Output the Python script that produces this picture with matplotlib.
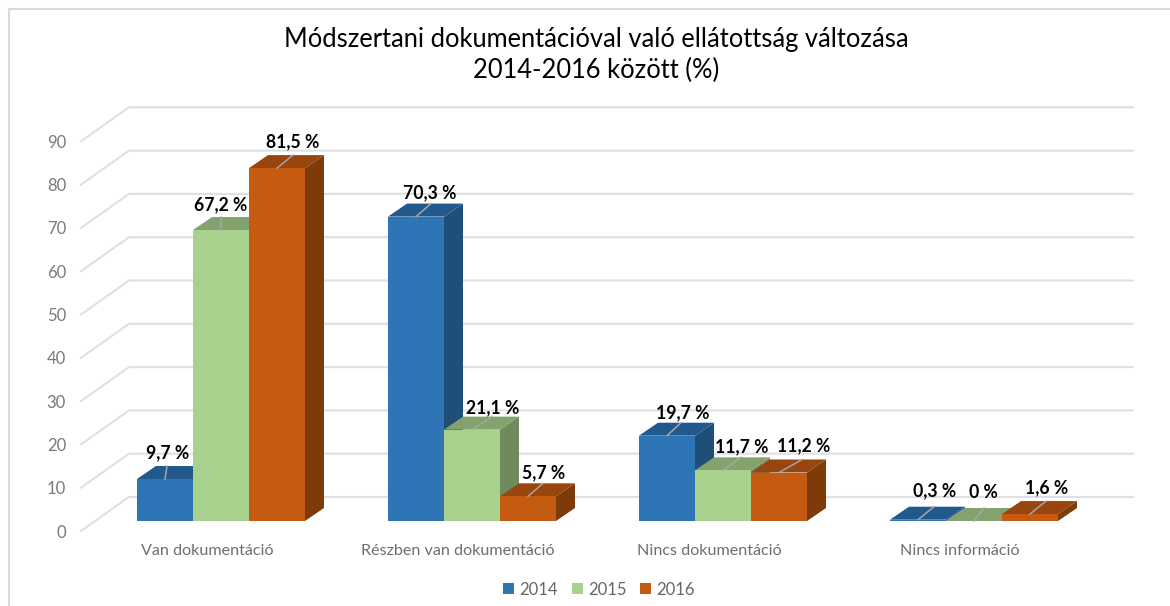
import matplotlib
matplotlib.use("Agg")
import matplotlib.pyplot as plt
from matplotlib.patches import Polygon, Rectangle

plt.rcParams['font.family'] = ['Lato', 'DejaVu Sans']

categories = ["Van dokumentáció", "Részben van dokumentáció", "Nincs dokumentáció", "Nincs információ"]
years = ["2014", "2015", "2016"]
v2014 = [9.7, 70.3, 19.7, 0.3]
v2015 = [67.2, 21.1, 11.7, 0.0]
v2016 = [81.5, 5.7, 11.2, 1.6]
labels2014 = ["9,7 %", "70,3 %", "19,7 %", "0,3 %"]
labels2015 = ["67,2 %", "21,1 %", "11,7 %", "0 %"]
labels2016 = ["81,5 %", "5,7 %", "11,2 %", "1,6 %"]
yticks = [0, 10, 20, 30, 40, 50, 60, 70, 80, 90]
title = "Módszertani dokumentációval való ellátottság változása\n2014-2016 között (%)"

W, H = 1170, 606
PXX = 251.0      # pixels per category
PXY = 4.33       # pixels per value unit
X0 = 221.0       # pixel of first category centre
Y0 = 521.0       # pixel of value 0 at the bars' front

fig = plt.figure(figsize=(W / 100, H / 100), dpi=100, facecolor="white")
ax = fig.add_axes([0, 0, 1, 1])
ax.set_xlim(-X0 / PXX, (W - X0) / PXX)
ax.set_ylim(-(H - Y0) / PXY, Y0 / PXY)
ax.axis("off")

def dx(px):
    return px / PXX

def dy(px):
    return px / PXY

grid = "#e0e0e0"
fx = dx(81 - X0)
bx = dx(129 - X0)
ex = dx(1133 - X0)
for t in yticks:
    yf = t + dy(-10)
    yb = t + dy(24)
    ax.plot([fx, bx, ex], [yf, yb, yb], color=grid, lw=1.5, zorder=1, solid_joinstyle="miter")
    ax.text(dx(66 - X0), yf + dy(-1.5), str(t), ha="right", va="center", fontsize=12, color="#7a7a7a")

# outer frame
ax.plot([dx(9 - X0), dx(9 - X0)], [-(H - Y0) / PXY, dy(Y0 - 9)], color="#d9d9d9", lw=1.5, zorder=1)
ax.plot([dx(9 - X0), (W - X0) / PXX], [dy(Y0 - 9), dy(Y0 - 9)], color="#d9d9d9", lw=1.5, zorder=1)

front = ["#2e75b6", "#a9d18e", "#c55a11"]
top = ["#22598c", "#84a26e", "#98460d"]
side = ["#1f4e79", "#6f8a5d", "#7f3a0a"]

BW = 56 / PXX
DX, DY = dx(19), dy(13)
series = [v2014, v2015, v2016]
texts = [labels2014, labels2015, labels2016]
# label centre relative to the middle of the bar's front top edge, pixels
offs = [[(3, -26), (14, -24), (16, -23), (17, -29)],
        [(0, -25), (21, -22), (19, -24), (9, -29)],
        [(16, -26), (16, -24), (25, -26.5), (17, -26)]]
# horizontal run of the grey leader across the top face, pixels
lead = [[2, 15, 14, 16],
        [0, 20, 18, 10],
        [16, 15, 23, 16]]

for c in range(len(categories)):
    for s in range(3):
        v = series[s][c]
        xl = c + (s - 1.5) * BW
        xr = xl + BW
        z = 3 + s * 0.1
        ax.add_patch(Polygon([(xr, 0), (xr + DX, DY), (xr + DX, v + DY), (xr, v)], fc=side[s], ec="none", zorder=z))
        ax.add_patch(Polygon([(xl, v), (xl + DX, v + DY), (xr + DX, v + DY), (xr, v)], fc=top[s], ec="none", zorder=z))
        ax.add_patch(Rectangle((xl, 0), BW, v, fc=front[s], ec="none", zorder=z + 0.01))
        cx = (xl + xr) / 2
        ox, oy = offs[s][c]
        ax.text(cx + dx(ox), v - dy(oy), texts[s][c], ha="center", va="center", fontsize=12.7,
                fontweight="bold", color="black", zorder=6)
        ax.plot([cx, cx + dx(lead[s][c])], [v, v + DY], color="#a6a6a6", lw=1.1, zorder=5)

    ax.text(c - dx(14), dy(-30), categories[c], ha="center", va="center", fontsize=11.6, color="#6e6e6e")

ax.text(dx(596 - X0), dy(Y0 - 55), title, ha="center", va="center", fontsize=18.4, color="black", linespacing=1.32)

# legend
leg_sq = [503, 572, 640]
leg_tx = [519, 588, 656]
for s in range(3):
    ax.add_patch(Rectangle((dx(leg_sq[s] - X0), dy(Y0 - 594)), dx(11), dy(11), fc=front[s], ec="none"))
    ax.text(dx(leg_tx[s] - X0), dy(Y0 - 590), years[s], ha="left", va="center", fontsize=12, color="#666666")

fig.savefig("out.png", dpi=100, facecolor="white")
